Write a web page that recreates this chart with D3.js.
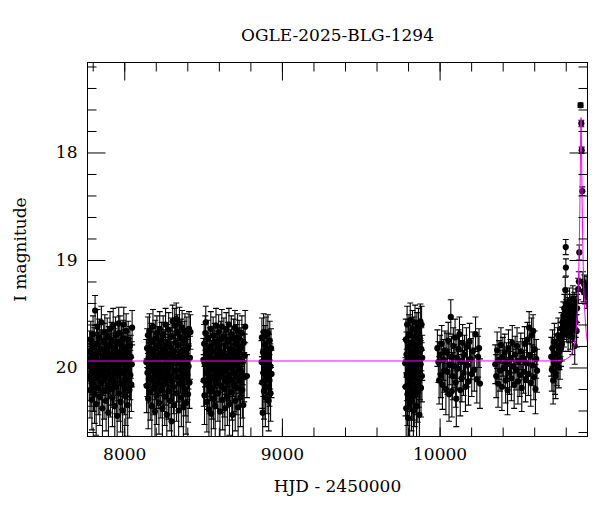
<!DOCTYPE html>
<html>
<head>
<meta charset="utf-8">
<script src="https://cdn.jsdelivr.net/npm/d3@7"></script>
<style>
  body { margin: 0; background: #fff; }
  svg text { font-family: "DejaVu Serif", "Liberation Serif", serif; fill: #000; }
</style>
</head>
<body>
<div id="chart"></div>
<script>
// OGLE light curve: [HJD-2450000, I mag, error]
var season1 = [[7776,19.92,.20],[7778,20.08,.23],[7781,19.85,.19],[7783,20.21,.26],[7785,19.99,.21],[7788,19.74,.17],[7790,20.12,.24],[7792,19.95,.20],[7795,20.30,.28],[7797,19.88,.19],[7800,20.03,.22],[7802,19.69,.17],[7805,20.16,.25],[7807,19.97,.21],[7810,19.81,.18],[7812,20.25,.27],[7815,19.47,.14],[7817,20.05,.22],[7820,19.90,.20],[7822,20.34,.29],[7825,19.78,.18],[7827,20.10,.23],[7830,19.62,.16],[7832,19.99,.21],[7835,20.19,.25],[7837,19.86,.19],[7840,20.01,.22],[7842,19.72,.17],[7845,20.27,.27],[7847,19.94,.20],[7850,20.07,.23],[7852,19.83,.18],[7855,19.58,.15],[7857,20.14,.24],[7860,19.96,.21],[7862,20.38,.30],[7865,19.89,.20],[7867,20.04,.22],[7870,19.76,.17],[7872,20.22,.26],[7875,19.93,.20],[7877,19.67,.16],[7880,20.09,.23],[7882,19.98,.21],[7885,20.31,.28],[7887,19.84,.19],[7890,20.02,.22],[7892,19.71,.17],[7895,20.17,.25],[7897,19.91,.20],[7900,20.42,.31],[7902,19.80,.18],[7905,20.06,.23],[7907,19.95,.21],[7910,19.64,.16],[7912,20.20,.26],[7915,19.87,.19],[7917,20.11,.24],[7920,19.75,.17],[7922,20.00,.22],[7925,20.28,.27],[7927,19.92,.20],[7930,19.61,.16],[7932,20.13,.24],[7935,19.97,.21],[7937,19.82,.18],[7940,20.36,.29],[7942,20.04,.22],[7945,19.70,.17],[7947,19.90,.20],[7950,20.18,.25],[7952,19.85,.19],[7955,20.45,.32],[7957,19.99,.21],[7960,19.77,.18],[7962,20.08,.23],[7965,19.59,.15],[7967,20.24,.26],[7970,19.94,.20],[7972,19.68,.16],[7975,20.03,.22],[7977,20.32,.28],[7980,19.88,.19],[7982,19.79,.18],[7985,20.15,.24],[7987,19.96,.21],[7990,20.40,.30],[7992,19.73,.17],[7995,20.05,.22],[7997,19.60,.16],[8000,19.91,.20],[8002,20.19,.25],[8005,19.83,.18],[8007,20.01,.22],[8010,20.27,.27],[8012,19.66,.16],[8015,19.95,.21],[8017,20.12,.24],[8020,19.86,.19],[8022,20.35,.29],[8025,19.74,.17],[8027,20.02,.22],[8030,19.93,.20],[8033,20.21,.26],[8036,19.80,.18],[8039,20.07,.23],[8042,19.90,.20],[8045,20.16,.25],[8048,19.97,.21],[8050,19.63,.16]];

var season2 = [[8140,19.95,.21],[8142,20.17,.25],[8145,19.82,.18],[8147,20.05,.22],[8150,19.70,.17],[8152,20.29,.28],[8155,19.91,.20],[8157,20.10,.23],[8160,19.66,.16],[8162,19.98,.21],[8165,20.23,.26],[8167,19.86,.19],[8170,20.03,.22],[8172,19.76,.17],[8175,20.36,.29],[8177,19.93,.20],[8180,20.12,.24],[8182,19.62,.16],[8185,20.00,.22],[8187,19.84,.18],[8190,20.19,.25],[8192,19.96,.21],[8195,20.41,.31],[8197,19.73,.17],[8200,20.07,.23],[8202,19.89,.20],[8205,20.26,.27],[8207,19.68,.16],[8210,20.02,.22],[8212,19.94,.20],[8215,20.14,.24],[8217,19.80,.18],[8220,20.33,.29],[8222,19.97,.21],[8225,19.64,.16],[8227,20.09,.23],[8230,19.87,.19],[8232,20.21,.26],[8235,19.99,.21],[8237,19.75,.17],[8240,20.04,.22],[8242,20.38,.30],[8245,19.90,.20],[8247,19.69,.17],[8250,20.16,.25],[8252,19.83,.18],[8255,20.01,.22],[8257,20.27,.27],[8260,19.92,.20],[8262,19.60,.15],[8265,20.11,.24],[8267,19.95,.21],[8270,20.44,.32],[8272,19.78,.18],[8275,20.06,.23],[8277,19.88,.19],[8280,20.22,.26],[8282,19.65,.16],[8285,20.00,.22],[8287,19.94,.20],[8290,20.31,.28],[8292,19.81,.18],[8295,20.08,.23],[8297,19.71,.17],[8300,20.50,.33],[8302,19.97,.21],[8305,20.13,.24],[8307,19.57,.15],[8310,19.89,.20],[8312,20.18,.25],[8315,19.85,.19],[8317,20.35,.29],[8320,19.61,.16],[8322,20.03,.22],[8325,19.77,.17],[8327,19.93,.20],[8330,19.55,.15],[8332,20.24,.26],[8335,19.90,.20],[8337,19.67,.16],[8340,20.09,.23],[8342,19.79,.18],[8345,20.40,.30],[8347,19.96,.21],[8350,19.59,.15],[8352,20.15,.24],[8355,19.86,.19],[8357,20.02,.22],[8360,19.72,.17],[8362,20.28,.27],[8365,19.92,.20],[8367,19.63,.16],[8370,20.11,.24],[8372,19.84,.18],[8375,20.37,.30],[8377,19.98,.21],[8380,19.74,.17],[8382,20.05,.22],[8385,19.66,.16],[8387,20.20,.25],[8390,19.88,.19],[8392,20.33,.29],[8395,19.95,.21],[8397,19.70,.17],[8400,20.07,.23],[8402,19.82,.18],[8405,20.25,.26],[8408,19.99,.21],[8411,19.64,.16],[8414,20.14,.24],[8417,19.91,.20],[8420,19.67,.16]];

var season3 = [[8502,19.93,.20],[8504,20.12,.24],[8507,19.78,.18],[8509,20.26,.27],[8512,19.97,.21],[8514,19.68,.16],[8517,19.58,.15],[8519,20.05,.22],[8522,19.87,.19],[8524,20.32,.28],[8527,19.94,.20],[8529,20.15,.24],[8532,19.73,.17],[8534,20.02,.22],[8537,20.39,.30],[8539,19.90,.20],[8542,20.18,.25],[8544,19.81,.18],[8547,20.08,.23],[8549,19.64,.16],[8552,20.43,.31],[8554,19.96,.21],[8557,20.22,.26],[8559,19.85,.19],[8562,20.00,.22],[8564,19.70,.17],[8567,20.29,.28],[8569,19.92,.20],[8572,20.10,.23],[8574,19.76,.17],[8577,20.36,.29],[8579,19.98,.21],[8582,19.61,.16],[8584,20.14,.24],[8587,19.88,.19],[8589,20.04,.22],[8592,19.79,.18],[8594,20.24,.26],[8597,19.95,.21],[8599,19.67,.16],[8602,20.09,.23],[8604,19.84,.18],[8607,20.41,.31],[8609,20.01,.22],[8612,19.74,.17],[8614,20.17,.25],[8617,19.91,.20],[8619,19.62,.16],[8622,20.06,.23],[8624,20.30,.28],[8627,19.86,.19],[8629,19.99,.21],[8632,19.71,.17],[8634,20.20,.26],[8637,19.93,.20],[8639,20.38,.30],[8642,19.80,.18],[8644,20.03,.22],[8647,19.65,.16],[8649,20.13,.24],[8652,19.89,.20],[8654,20.27,.27],[8657,19.97,.21],[8659,19.75,.17],[8662,20.08,.23],[8664,19.60,.15],[8667,20.34,.29],[8669,19.92,.20],[8672,20.11,.24],[8674,19.83,.18],[8677,20.00,.22],[8679,19.69,.17],[8682,20.23,.26],[8684,19.94,.20],[8687,20.44,.32],[8689,19.87,.19],[8692,20.05,.22],[8694,19.72,.17],[8697,20.16,.25],[8699,19.96,.21],[8702,19.63,.16],[8704,20.31,.28],[8707,19.90,.20],[8709,20.07,.23],[8712,19.78,.18],[8714,20.19,.25],[8717,19.98,.21],[8719,19.66,.16],[8722,20.37,.30],[8724,19.85,.19],[8727,20.02,.22],[8729,19.73,.17],[8732,20.12,.24],[8734,19.93,.20],[8737,20.28,.27],[8740,19.81,.18],[8743,20.04,.22],[8746,19.68,.16],[8749,20.21,.26],[8752,19.95,.21],[8755,20.35,.29],[8758,19.77,.17],[8761,20.09,.23],[8764,19.89,.20],[8767,19.62,.15],[8778,20.08,.20]];

var season4 = [[8871,19.95,.20],[8873,19.72,.18],[8875,20.14,.24],[8878,20.42,.30],[8880,19.86,.19],[8882,20.05,.22],[8884,19.67,.17],[8886,20.22,.26],[8888,19.91,.20],[8890,20.01,.22],[8893,19.79,.18],[8895,20.28,.27],[8897,19.97,.21],[8899,19.70,.17],[8902,20.09,.23],[8904,19.84,.19],[8906,20.18,.25],[8909,19.93,.20],[8911,19.68,.17],[8913,20.03,.22],[8916,20.31,.28],[8918,19.88,.19],[8921,20.12,.24],[8923,19.75,.18],[8926,19.99,.21],[8928,20.24,.26],[8931,19.82,.18],[8934,20.06,.22]];

var season5 = [[9782,19.96,.22],[9784,20.18,.27],[9786,19.74,.19],[9788,20.38,.33],[9790,19.88,.21],[9792,20.07,.24],[9794,19.60,.17],[9796,20.25,.29],[9798,19.93,.22],[9800,20.47,.35],[9802,19.81,.20],[9804,20.11,.25],[9806,19.69,.18],[9808,20.02,.23],[9810,20.33,.31],[9812,19.90,.21],[9814,19.56,.16],[9816,20.15,.26],[9818,19.98,.22],[9820,19.77,.19],[9822,20.29,.30],[9824,19.85,.20],[9826,20.05,.24],[9828,19.64,.17],[9830,20.21,.28],[9832,19.94,.22],[9834,20.40,.34],[9836,19.72,.19],[9838,20.09,.24],[9840,19.87,.21],[9842,20.26,.29],[9844,19.58,.16],[9846,20.00,.23],[9848,19.80,.20],[9850,20.17,.27],[9852,19.92,.22],[9854,20.36,.32],[9856,19.67,.18],[9858,20.04,.23],[9860,19.84,.20],[9862,20.23,.28],[9864,19.95,.22],[9866,19.62,.17],[9868,20.12,.25],[9870,19.89,.21],[9872,20.44,.34],[9874,19.76,.19],[9876,20.06,.24],[9878,19.57,.16],[9880,19.97,.22],[9882,20.19,.27],[9884,19.83,.20],[9886,19.60,.17],[9888,20.08,.24],[9890,19.91,.21]];

var season6 = [[9986,19.82,.17],[9992,19.95,.19],[9997,20.12,.22],[10003,19.88,.18],[10008,20.07,.21],[10013,19.78,.17],[10018,20.16,.23],[10024,19.93,.19],[10029,20.03,.20],[10034,19.84,.18],[10040,20.20,.24],[10046,19.86,.18],[10050,20.04,.21],[10055,19.75,.17],[10060,20.25,.25],[10065,19.97,.19],[10071,19.53,.16],[10075,19.90,.19],[10078,20.22,.24],[10083,20.08,.22],[10087,19.80,.17],[10092,19.99,.20],[10098,19.72,.17],[10102,20.14,.23],[10106,20.29,.26],[10110,19.91,.19],[10115,20.01,.20],[10120,19.83,.18],[10126,19.69,.16],[10131,20.21,.24],[10136,19.94,.19],[10141,20.10,.22],[10146,19.77,.17],[10152,20.05,.21],[10158,19.88,.18],[10164,20.18,.23],[10170,19.81,.18],[10176,19.98,.20],[10183,20.13,.22],[10190,19.76,.17],[10197,19.92,.19],[10204,20.06,.21],[10212,19.85,.18],[10220,20.02,.20],[10228,19.69,.16],[10236,20.11,.22],[10244,19.90,.19],[10250,19.82,.18],[10256,20.15,.23]];

var season7 = [[10353,19.97,.18],[10359,20.08,.20],[10365,19.84,.17],[10371,20.15,.22],[10377,19.93,.18],[10383,20.03,.19],[10389,19.79,.16],[10395,20.18,.22],[10401,19.90,.18],[10407,20.00,.19],[10413,19.86,.17],[10419,20.12,.21],[10425,19.95,.18],[10431,20.21,.23],[10437,19.82,.17],[10443,20.05,.20],[10449,19.92,.18],[10455,20.10,.21],[10461,19.77,.16],[10467,19.99,.19],[10473,20.16,.22],[10479,19.88,.17],[10485,20.02,.19],[10491,19.80,.17],[10497,20.13,.21],[10503,19.94,.18],[10509,20.07,.20],[10515,19.85,.17],[10521,20.19,.22],[10527,19.91,.18],[10533,20.04,.20],[10539,19.78,.16],[10545,20.11,.21],[10551,19.96,.18],[10557,19.74,.16],[10563,20.06,.20],[10568,19.63,.15],[10573,19.89,.17],[10578,20.14,.22],[10583,19.70,.16],[10588,19.98,.19],[10593,19.66,.15],[10598,20.09,.21],[10603,19.83,.17],[10608,20.20,.23],[10613,19.92,.18],[10618,20.03,.20]];

var season8 = [[10708,19.90,.18],[10712,20.02,.20],[10716,19.82,.17],[10720,20.12,.22],[10724,19.95,.18],[10728,19.76,.17],[10732,20.05,.20],[10736,20.08,.21],[10740,19.87,.18],[10744,19.98,.19],[10748,19.80,.17],[10752,19.70,.16],[10756,20.00,.19],[10760,19.85,.17],[10764,19.93,.18],[10767,19.74,.16],[10770,19.82,.17],[10773,19.64,.15],[10776,19.78,.16],[10779,19.58,.14],[10782,19.70,.15],[10785,19.52,.13],[10788,19.66,.15],[10791,19.45,.13],[10794,19.60,.14],[10797,19.28,.12],[10800,18.88,.07],[10801,19.07,.08],[10803,19.50,.13],[10806,19.62,.14],[10809,19.41,.12],[10812,19.57,.14],[10815,19.70,.15],[10818,19.48,.13],[10821,19.63,.14],[10824,19.38,.12],[10827,19.55,.13],[10830,19.68,.15],[10833,19.44,.12],[10836,19.59,.14],[10839,19.50,.13],[10842,19.72,.16],[10845,19.36,.12],[10848,19.54,.13],[10851,19.62,.14],[10854,19.42,.12],[10857,19.80,.17],[10860,19.47,.13],[10863,19.58,.14],[10866,19.39,.12],[10869,19.66,.15],[10872,19.45,.13]];

var season9 = [[10879,19.27,.10],[10883,19.20,.09],[10886,18.93,.07],[10894,17.56,.02],[10899,17.73,.03],[10901,17.98,.03],[10905,18.36,.04],[10909,19.20,.09],[10913,19.29,.10],[10918,19.23,.09],[10923,19.31,.10],[10929,19.25,.10],[10934,19.34,.11]];

// fitted model curve: [HJD-2450000, I mag]
var model = [[7767,19.94],[10700,19.939],[10747,19.937],[10797,19.927],[10827,19.90],[10837,19.876],[10847,19.836],[10853,19.798],[10859,19.742],[10864,19.676],[10869,19.585],[10873,19.485],[10877,19.353],[10880,19.224],[10883,19.061],[10885,18.927],[10887,18.769],[10889,18.579],[10890,18.469],[10891,18.349],[10892,18.22],[10893,18.08],[10894,17.94],[10895,17.81],[10896,17.713],[10897,17.676],[10898,17.713],[10899,17.81],[10900,17.94],[10901,18.08],[10902,18.22],[10903,18.349],[10904,18.469],[10905,18.579],[10907,18.769],[10909,18.927],[10911,19.061],[10914,19.224],[10917,19.353],[10921,19.485],[10925,19.585],[10930,19.676],[10935,19.742],[10938,19.77]];

var xMajor = [8000, 9000, 10000];
var xMinor = d3.range(7800, 10938, 200);
var yMajor = [18, 19, 20];
var yMinor = [17.2,17.4,17.6,17.8,18.2,18.4,18.6,18.8,19.2,19.4,19.6,19.8,20.2,20.4,20.6];

var chartTitle = "OGLE-2025-BLG-1294";
var xTitle = "HJD - 2450000";
var yTitle = "I magnitude";

var W = 600, H = 512;
var m = {left: 87.5, top: 62.5, width: 500, height: 374};

var svg = d3.select("#chart").append("svg")
  .attr("width", W).attr("height", H);

var x = d3.scaleLinear().domain([7767, 10938]).range([m.left, m.left + m.width]);
var y = d3.scaleLinear().domain([17.163, 20.642]).range([m.top, m.top + m.height]);

svg.append("clipPath").attr("id", "plotclip")
  .append("rect")
  .attr("x", m.left).attr("y", m.top)
  .attr("width", m.width).attr("height", m.height);

var plot = svg.append("g").attr("clip-path", "url(#plotclip)");

var obs = [].concat(season1, season2, season3, season4, season5, season6, season7, season8, season9);

// error bars
var bars = plot.append("g")
  .attr("stroke", "#000")
  .attr("stroke-width", 1.1)
  .attr("fill", "none");

bars.selectAll("path")
  .data(obs)
  .enter().append("path")
  .attr("d", function (d) {
    var px = x(d[0]), y1 = y(d[1] - d[2]), y2 = y(d[1] + d[2]);
    return "M" + px + "," + y1 + "V" + y2 +
      "M" + (px - 3) + "," + y1 + "H" + (px + 3) +
      "M" + (px - 3) + "," + y2 + "H" + (px + 3);
  });

plot.append("g").selectAll("circle")
  .data(obs)
  .enter().append("circle")
  .attr("cx", function (d) { return x(d[0]); })
  .attr("cy", function (d) { return y(d[1]); })
  .attr("r", 3.1)
  .attr("fill", "#000");

plot.append("path")
  .datum(model)
  .attr("fill", "none")
  .attr("stroke", "#ff00ff")
  .attr("stroke-width", 1)
  .attr("d", d3.line()
    .x(function (d) { return x(d[0]); })
    .y(function (d) { return y(d[1]); }));

// axes, ticks point inward on all four sides
function addAxis(axis, tx, ty) {
  var g = svg.append("g")
    .attr("transform", "translate(" + tx + "," + ty + ")")
    .call(axis);
  g.select(".domain").remove();
  g.selectAll("text")
    .attr("font-family", "DejaVu Serif")
    .attr("font-size", "17px");
  g.selectAll(".tick line").attr("stroke", "#000");
  return g;
}

var bottom = m.top + m.height, right = m.left + m.width;

addAxis(d3.axisBottom(x).tickValues(xMajor).tickSize(-18).tickPadding(11).tickFormat(d3.format("d")), 0, bottom);
addAxis(d3.axisBottom(x).tickValues(xMinor).tickSize(-9).tickFormat(""), 0, bottom);
addAxis(d3.axisTop(x).tickValues(xMajor).tickSize(-18).tickFormat(""), 0, m.top);
addAxis(d3.axisTop(x).tickValues(xMinor).tickSize(-9).tickFormat(""), 0, m.top);
addAxis(d3.axisLeft(y).tickValues(yMajor).tickSize(-18).tickPadding(10).tickFormat(d3.format("d")), m.left, 0);
addAxis(d3.axisLeft(y).tickValues(yMinor).tickSize(-9).tickFormat(""), m.left, 0);
addAxis(d3.axisRight(y).tickValues(yMajor).tickSize(-18).tickFormat(""), right, 0);
addAxis(d3.axisRight(y).tickValues(yMinor).tickSize(-9).tickFormat(""), right, 0);

svg.append("rect")
  .attr("x", m.left).attr("y", m.top)
  .attr("width", m.width).attr("height", m.height)
  .attr("fill", "none")
  .attr("stroke", "#000")
  .attr("stroke-width", 1);

svg.append("text")
  .attr("x", m.left + m.width / 2).attr("y", 41)
  .attr("text-anchor", "middle")
  .attr("font-size", "17px")
  .text(chartTitle);

svg.append("text")
  .attr("x", m.left + m.width / 2).attr("y", 492)
  .attr("text-anchor", "middle")
  .attr("font-size", "17px")
  .text(xTitle);

svg.append("text")
  .attr("transform", "translate(26," + (m.top + m.height / 2) + ") rotate(-90)")
  .attr("text-anchor", "middle")
  .attr("font-size", "17px")
  .text(yTitle);
</script>
</body>
</html>
